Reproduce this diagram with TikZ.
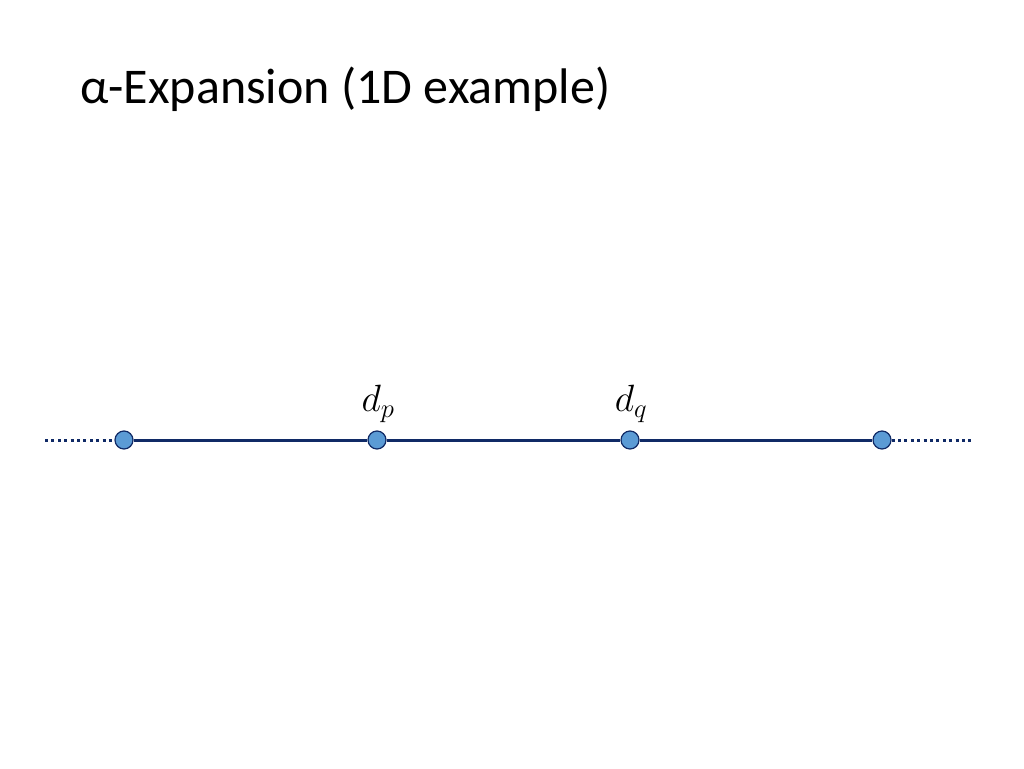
\RequirePackage{fix-cm}
\documentclass[tikz,border=0pt]{standalone}
\usepackage{fontspec}
\setmainfont{Carlito}
\definecolor{navy}{HTML}{102A66}
\definecolor{dotfill}{HTML}{5B9BD5}
\begin{document}
\begin{tikzpicture}[x=1pt,y=-1pt,
  site/.style={circle, draw=navy, fill=dotfill, line width=1.2pt, minimum size=18pt, inner sep=0pt},
  chain/.style={draw=navy, line width=3pt},
  tail/.style={draw=navy, line width=3pt, dash pattern=on 3pt off 3.4pt},
  lbl/.style={font=\fontsize{38}{44}\selectfont}]
\useasboundingbox (0,0) rectangle (1024,768);
\node[anchor=base west, inner sep=0pt, font=\fontsize{50}{58}\selectfont] (title) at (80,103) {α-Expansion (1D example)};
\coordinate (l) at (45,440);
\coordinate (r) at (971,440);
\node[site] (s1) at (124,440) {};
\node[site] (s2) at (377,440) {};
\node[site] (s3) at (630,440) {};
\node[site] (s4) at (882,440) {};
\draw[tail] (l) -- (s1);
\draw[tail] (s4) -- (r);
\draw[chain] (s1) -- (s2);
\draw[chain] (s2) -- (s3);
\draw[chain] (s3) -- (s4);
\node[lbl] (dp) at (378,404) {$d_p$};
\node[lbl] (dq) at (631,404) {$d_q$};
\end{tikzpicture}
\end{document}
